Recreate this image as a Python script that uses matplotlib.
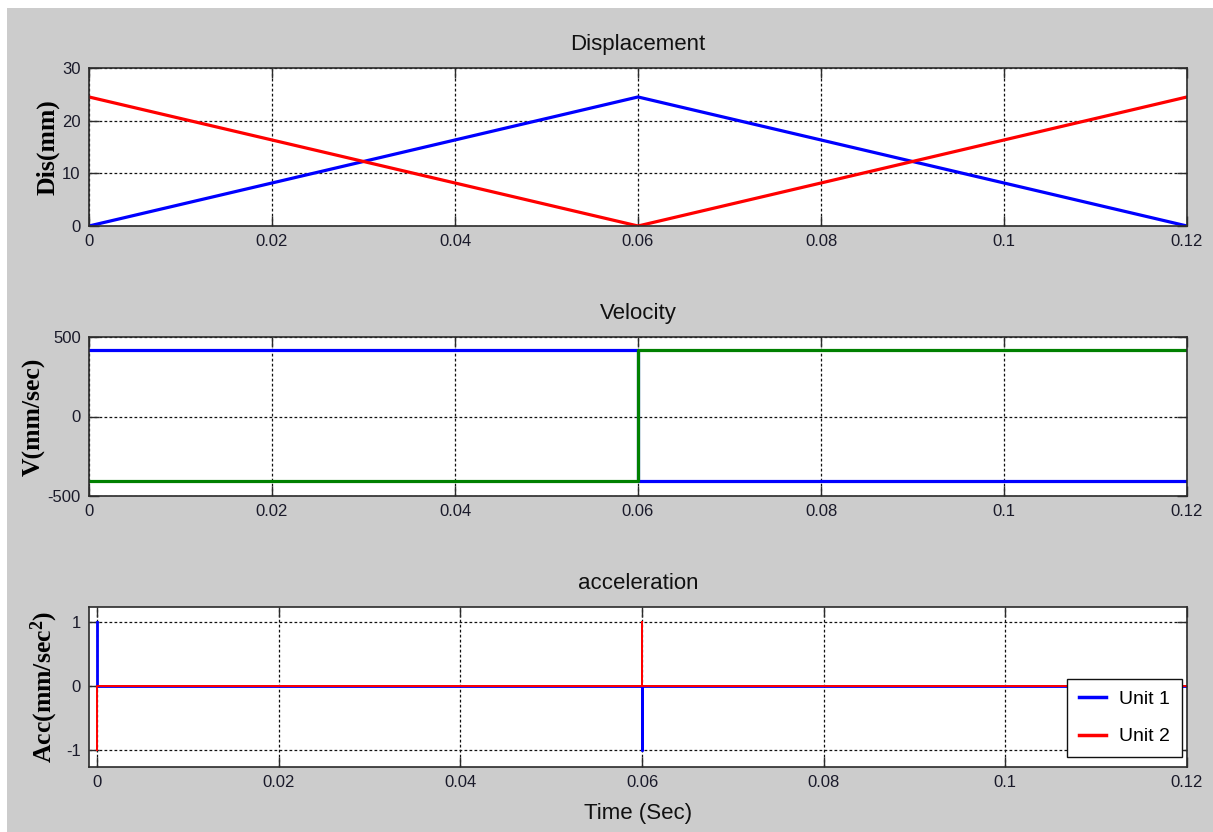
import matplotlib
matplotlib.use("Agg")
import matplotlib.pyplot as plt
from matplotlib.patches import Rectangle

# ---------------- data ----------------
disp_time = [0.0, 0.06, 0.12]
disp_unit1 = [0.0, 24.5, 0.0]
disp_unit2 = [24.5, 0.0, 24.5]

vel_time = [0.0, 0.06, 0.06, 0.12]
vel_unit1 = [420, 420, -403, -403]
vel_unit2 = [-403, -403, 420, 420]

acc_time = [0.0, 0.0, 0.06, 0.06, 0.06, 0.12]
acc_unit1 = [1, 0, 0, -1, 0, 0]
acc_unit2 = [-1, 0, 0, 1, 0, 0]

xticks = [0, 0.02, 0.04, 0.06, 0.08, 0.1, 0.12]
xticklabels = ["0", "0.02", "0.04", "0.06", "0.08", "0.1", "0.12"]
series_names = ["Unit 1", "Unit 2"]

# ---------------- style ----------------
plt.rcParams['font.family'] = ['Liberation Sans', 'DejaVu Sans']
plt.rcParams['axes.unicode_minus'] = False
plt.rcParams['mathtext.fontset'] = 'custom'
plt.rcParams['mathtext.rm'] = 'Liberation Serif:bold'
plt.rcParams['mathtext.it'] = 'Liberation Serif:bold'
plt.rcParams['mathtext.bf'] = 'Liberation Serif:bold'

BG = '#cccccc'
SPINE = '#2b2b2b'
serif = dict(family='Liberation Serif', weight='bold', size=18.5)

fig = plt.figure(figsize=(12.13, 8.32), dpi=100, facecolor=BG)
fig.patches.append(Rectangle((0, 1 - 8 / 832), 1, 8 / 832, transform=fig.transFigure,
                             facecolor='white', edgecolor='none', zorder=-10))
fig.patches.append(Rectangle((0, 0), 7 / 1213, 1, transform=fig.transFigure,
                             facecolor='white', edgecolor='none', zorder=-10))

left, width = 89 / 1213, 1098 / 1213
ax1 = fig.add_axes([left, 1 - 226 / 832, width, 158 / 832])
ax2 = fig.add_axes([left, 1 - 496 / 832, width, 159 / 832])
ax3 = fig.add_axes([left, 1 - 767 / 832, width, 160 / 832])


def style(ax, title):
    ax.set_facecolor('white')
    for s in ax.spines.values():
        s.set_color(SPINE)
        s.set_linewidth(1.2)
    ax.set_xticks(xticks)
    ax.set_xticklabels(xticklabels)
    ax.tick_params(direction='in', length=7.5, width=1.0, colors=SPINE,
                   labelcolor='#1a1a2a', labelsize=12, top=True, right=True, pad=6)
    ax.grid(True, color='#111111', linestyle=(0, (2.2, 1.8)), linewidth=0.9)
    ax.set_axisbelow(True)
    ax.set_title(title, fontsize=16, pad=13, color='#111111')


# Displacement
ax1.plot(disp_time, disp_unit1, color='#0000ff', lw=2.3)
ax1.plot(disp_time, disp_unit2, color='#ff0000', lw=2.3)
ax1.set_xlim(0, 0.12)
ax1.set_ylim(0, 30)
ax1.set_yticks([0, 10, 20, 30])
style(ax1, 'Displacement')
ax1.set_ylabel('Dis(mm)', fontdict=serif, labelpad=2)

# Velocity
ax2.plot(vel_time, vel_unit1, color='#0000ff', lw=2.3)
ax2.plot(vel_time, vel_unit2, color='#008000', lw=2.3)
ax2.set_xlim(0, 0.12)
ax2.set_ylim(-500, 500)
ax2.set_yticks([-500, 0, 500])
style(ax2, 'Velocity')
ax2.set_ylabel('V(mm/sec)', fontdict=serif, labelpad=1)

# Acceleration
ax3.plot(acc_time, acc_unit1, color='#0000ff', lw=2.0, label=series_names[0])
ax3.plot(acc_time, acc_unit2, color='#ff0000', lw=1.4, label=series_names[1])
ax3.set_xlim(-0.0009, 0.12)
ax3.set_ylim(-1.26, 1.24)
ax3.set_yticks([-1, 0, 1])
style(ax3, 'acceleration')
ax3.set_ylabel('Acc(mm/sec$^2$)', fontdict=serif, labelpad=4)
ax3.set_xlabel('Time (Sec)', fontsize=16, labelpad=9, color='#111111')

leg = ax3.legend(loc='lower right', bbox_to_anchor=(0.9954, 0.0625), borderaxespad=0,
                 fontsize=14, frameon=True, fancybox=False, handlelength=1.4,
                 handletextpad=0.7, borderpad=0.6, labelspacing=1.0)
leg.get_frame().set_edgecolor('#111111')
leg.get_frame().set_linewidth(1.0)
leg.get_frame().set_facecolor('white')
leg.get_frame().set_alpha(1)
for line in leg.get_lines():
    line.set_linewidth(2.5)

fig.savefig('out.png', dpi=100, facecolor=BG)
